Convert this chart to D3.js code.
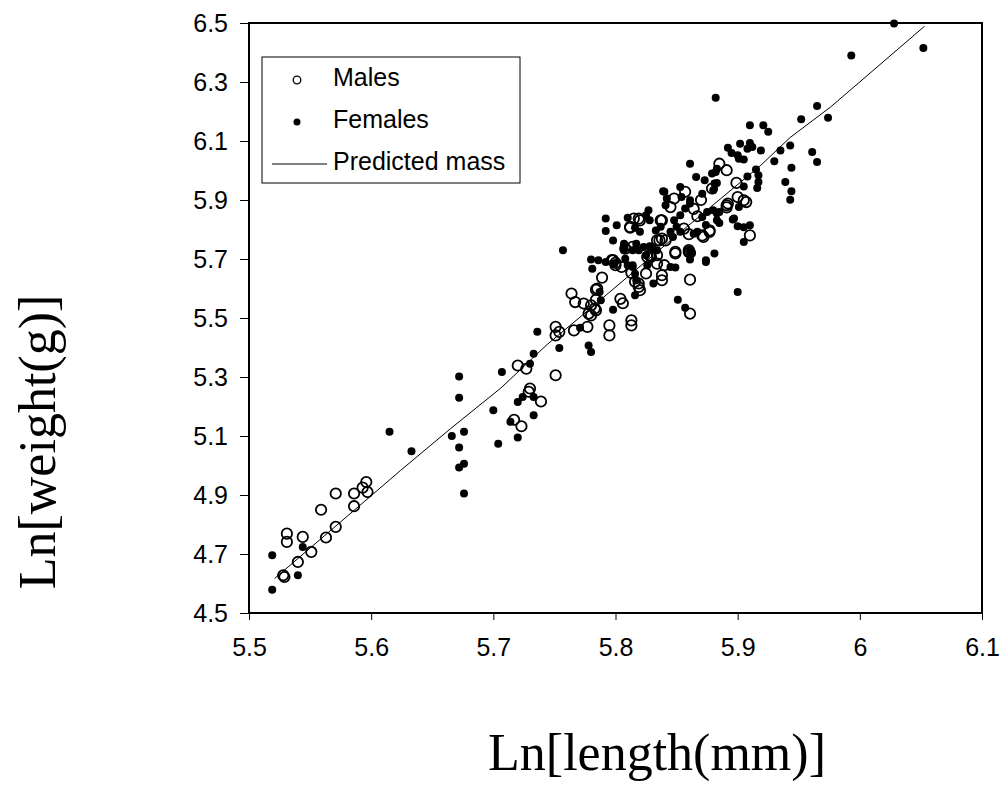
<!DOCTYPE html>
<html>
<head>
<meta charset="utf-8">
<script src="https://cdn.jsdelivr.net/npm/d3@7"></script>
<style>
  body { margin: 0; background: #fff; }
</style>
</head>
<body>
<div id="chart"></div>
<script>
// axis ticks
let xTicks = [5.5, 5.6, 5.7, 5.8, 5.9, 6.0, 6.1];
let yTicks = [4.5, 4.7, 4.9, 5.1, 5.3, 5.5, 5.7, 5.9, 6.1, 6.3, 6.5];

// males: [ln length, ln weight]
let males = [
  [5.528,4.628],[5.529,4.622],[5.531,4.769],[5.531,4.741],[5.540,4.673],[5.551,4.707],
  [5.544,4.758],[5.563,4.756],[5.571,4.792],[5.559,4.850],[5.571,4.905],[5.586,4.905],
  [5.586,4.862],[5.593,4.925],[5.596,4.944],[5.597,4.910],
  [5.720,5.339],[5.727,5.328],[5.730,5.261],[5.729,5.250],[5.739,5.217],[5.717,5.155],
  [5.723,5.133],[5.751,5.306],[5.751,5.470],[5.754,5.453],[5.751,5.441],[5.766,5.458],
  [5.777,5.470],[5.795,5.475],[5.795,5.441],[5.813,5.492],[5.813,5.475],[5.767,5.554],
  [5.764,5.583],[5.774,5.549],[5.780,5.509],[5.784,5.526],[5.784,5.596],[5.784,5.562],
  [5.789,5.637],[5.804,5.565],[5.806,5.550],[5.800,5.687],[5.805,5.673],[5.813,5.653],
  [5.819,5.617],[5.820,5.594],[5.825,5.651],[5.829,5.707],[5.834,5.713],[5.838,5.645],
  [5.838,5.628],[5.840,5.679],[5.849,5.719],[5.861,5.630],[5.861,5.515],[5.861,5.721],
  [5.816,5.623],[5.785,5.600],[5.780,5.543],[5.778,5.515],[5.783,5.532],[5.819,5.605],
  [5.834,5.684],[5.797,5.696],[5.800,5.679],
  [5.885,6.023],[5.891,6.001],[5.899,5.958],[5.900,5.910],[5.905,5.899],[5.891,5.882],
  [5.891,5.875],[5.910,5.780],[5.877,5.797],[5.879,5.939],[5.857,5.928],[5.845,5.876],
  [5.837,5.831],[5.820,5.831],[5.812,5.806],[5.867,5.845],[5.856,5.803],[5.860,5.784],
  [5.877,5.792],[5.872,5.775],[5.849,5.724],[5.860,5.724],[5.836,5.763],[5.841,5.763],
  [5.828,5.713],[5.814,5.741],[5.798,5.696],[5.808,5.735],[5.815,5.837],[5.819,5.837],
  [5.838,5.831],[5.834,5.763],[5.838,5.769],[5.826,5.707],[5.871,5.780],[5.860,5.730],
  [5.907,5.893],[5.892,5.888],[5.812,5.809],[5.870,5.900],[5.864,5.870],[5.848,5.905]
];

// females: [ln length, ln weight]
let females = [
  [5.519,4.696],[5.519,4.579],[5.540,4.628],[5.544,4.724],[5.615,5.114],[5.633,5.048],
  [5.672,5.302],[5.672,5.230],[5.666,5.100],[5.676,5.114],[5.672,5.061],[5.676,5.006],
  [5.672,4.993],[5.676,4.905],[5.700,5.187],[5.704,5.074],[5.707,5.317],[5.714,5.148],
  [5.720,5.095],[5.720,5.215],[5.724,5.232],[5.733,5.170],[5.733,5.232],[5.730,5.345],
  [5.733,5.379],[5.736,5.453],[5.754,5.398],[5.778,5.407],[5.780,5.385],[5.798,5.528],
  [5.771,5.467],[5.788,5.560],[5.787,5.588],[5.814,5.679],[5.817,5.628],[5.816,5.577],
  [5.831,5.617],[5.849,5.671],[5.851,5.562],[5.857,5.535],[5.861,5.698],[5.874,5.690],
  [5.881,5.719],[5.757,5.730],[5.780,5.698],[5.900,5.588],
  [6.028,6.498],[6.052,6.415],[5.993,6.390],[5.882,6.247],[5.965,6.219],[5.974,6.179],
  [5.952,6.174],[5.910,6.153],[5.921,6.153],[5.925,6.131],[5.902,6.091],[5.910,6.093],
  [5.912,6.080],[5.908,6.074],[5.919,6.068],[5.892,6.077],[5.895,6.059],[5.900,6.052],
  [5.905,6.037],[5.901,6.040],[5.935,6.068],[5.943,6.085],[5.930,6.031],[5.961,6.063],
  [5.965,6.029],[5.944,6.009],[5.939,5.961],[5.944,5.930],[5.943,5.901],[5.915,6.003],
  [5.917,5.984],[5.917,5.961],[5.916,5.941],[5.908,5.980],[5.882,5.995],[5.883,5.958],
  [5.905,5.946],[5.880,5.933],[5.901,5.876],[5.880,5.865],[5.883,5.854],[5.885,5.822],
  [5.896,5.834],[5.900,5.811],[5.910,5.814],[5.905,5.758],[5.861,6.023],[5.866,5.978],
  [5.839,5.930],[5.873,5.967],[5.879,5.990],[5.883,6.006],[5.840,5.928],[5.842,5.905],
  [5.841,5.882],[5.827,5.865],[5.825,5.848],[5.810,5.840],[5.801,5.814],[5.792,5.795],
  [5.798,5.763],[5.816,5.806],[5.820,5.792],[5.828,5.831],[5.854,5.910],[5.857,5.871],
  [5.861,5.888],[5.853,5.848],[5.848,5.831],[5.850,5.809],[5.853,5.792],[5.845,5.792],
  [5.871,5.921],[5.871,5.842],[5.875,5.859],[5.883,5.831],[5.807,5.752],[5.817,5.752],
  [5.819,5.730],[5.828,5.743],[5.833,5.797],[5.837,5.809],[5.847,5.775],[5.867,5.792],
  [5.874,5.696],[5.861,5.724],[5.845,5.673],[5.825,5.713],[5.808,5.701],[5.807,5.730],
  [5.814,5.730],[5.853,5.944],[5.861,5.899],[5.881,5.956],[5.885,5.859],[5.874,5.815],
  [5.864,5.786],[5.830,5.741],[5.834,5.730],[5.823,5.741],[5.814,5.673],[5.816,5.650],
  [5.826,5.679],[5.807,5.746],[5.799,5.684],[5.792,5.690],[5.786,5.696],[5.781,5.667],
  [5.810,5.679],[5.897,5.837],[5.905,5.808],[5.792,5.837]
];

// predicted mass line
let predicted = [
  [5.521,4.617],[5.624,4.983],[5.665,5.125],[5.706,5.262],[5.744,5.410],[5.771,5.503],
  [5.850,5.780],[5.919,6.018],[5.943,6.112],[5.976,6.215],[6.053,6.489]
];

let W = 1003, H = 805;
let m = {left: 249, right: 982, top: 23, bottom: 613};

let svg = d3.select('#chart').append('svg')
  .attr('width', W)
  .attr('height', H)
  .style('background', '#fff');

let x = d3.scaleLinear().domain([5.5, 6.1]).range([m.left, m.right]);
let y = d3.scaleLinear().domain([4.5, 6.5]).range([m.bottom, m.top]);

//axes
let xAxis = svg.append('g')
  .attr('transform', 'translate(0,' + m.bottom + ')')
  .call(d3.axisBottom(x).tickValues(xTicks).tickSize(7).tickSizeOuter(0).tickPadding(18)
    .tickFormat(d3.format('')));
let yAxis = svg.append('g')
  .attr('transform', 'translate(' + m.left + ',0)')
  .call(d3.axisLeft(y).tickValues(yTicks).tickSize(9).tickSizeOuter(0).tickPadding(12)
    .tickFormat(d3.format('.1f')));

[xAxis, yAxis].forEach(function(a){
  a.select('.domain').remove();
  a.selectAll('line').attr('stroke', '#000').attr('stroke-width', 1);
  a.selectAll('text')
    .attr('fill', '#000')
    .style('font-family', 'Arial, "Liberation Sans", sans-serif')
    .style('font-size', '25px');
});

// frame
svg.append('rect')
  .attr('x', m.left)
  .attr('y', m.top)
  .attr('width', m.right - m.left)
  .attr('height', m.bottom - m.top)
  .attr('fill', 'none')
  .attr('stroke', '#000')
  .attr('stroke-width', 2);

// predicted line
svg.append('path')
  .datum(predicted)
  .attr('fill', 'none')
  .attr('stroke', '#000')
  .attr('stroke-width', 1)
  .attr('d', d3.line().x(function(d){return x(d[0]);}).y(function(d){return y(d[1]);}));

// females
svg.append('g').selectAll('circle').data(females).enter()
  .append('circle')
    .attr('cx', function(d){return x(d[0]);})
    .attr('cy', function(d){return y(d[1]);})
    .attr('r', 4)
    .attr('fill', '#000');

// males
svg.append('g').selectAll('circle').data(males).enter()
  .append('circle')
    .attr('cx', function(d){return x(d[0]);})
    .attr('cy', function(d){return y(d[1]);})
    .attr('r', 5.2)
    .attr('fill', 'none')
    .attr('stroke', '#000')
    .attr('stroke-width', 1.8);

// legend
let lg = svg.append('g').attr('transform', 'translate(262,57)');
lg.append('rect')
  .attr('width', 258)
  .attr('height', 126)
  .attr('fill', '#fff')
  .attr('stroke', '#000')
  .attr('stroke-width', 1);
lg.append('circle').attr('cx', 35).attr('cy', 23).attr('r', 3.8)
  .attr('fill', 'none').attr('stroke', '#000').attr('stroke-width', 1.3);
lg.append('circle').attr('cx', 35).attr('cy', 65).attr('r', 3.5).attr('fill', '#000');
lg.append('line').attr('x1', 10).attr('x2', 65).attr('y1', 107).attr('y2', 107)
  .attr('stroke', '#000').attr('stroke-width', 1);
let labels = ['Males', 'Females', 'Predicted mass'];
labels.forEach(function(t, i){
  lg.append('text')
    .attr('x', 71)
    .attr('y', 29 + i * 42)
    .style('font-family', 'Arial, "Liberation Sans", sans-serif')
    .style('font-size', '25px')
    .text(t);
});

// axis titles
svg.append('text')
  .attr('x', 657)
  .attr('y', 770)
  .attr('text-anchor', 'middle')
  .style('font-family', '"Times New Roman", "Liberation Serif", serif')
  .style('font-size', '52px')
  .text('Ln[length(mm)]');
svg.append('text')
  .attr('transform', 'translate(55,442) rotate(-90)')
  .attr('text-anchor', 'middle')
  .style('font-family', '"Times New Roman", "Liberation Serif", serif')
  .style('font-size', '52px')
  .text('Ln[weight(g)]');
</script>
</body>
</html>
